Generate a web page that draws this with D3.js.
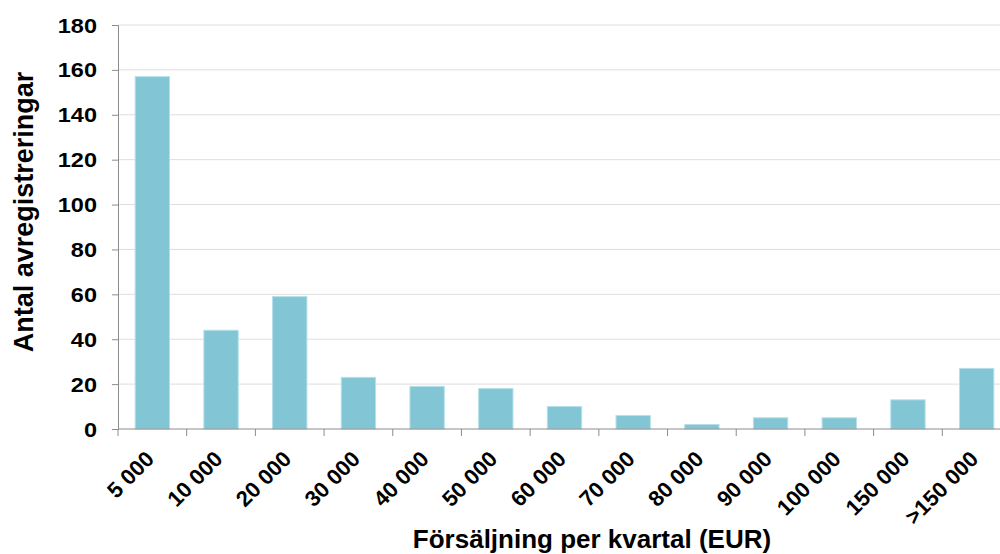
<!DOCTYPE html>
<html>
<head>
<meta charset="utf-8">
<script src="https://cdn.jsdelivr.net/npm/d3@7"></script>
<style>
  html, body { margin: 0; padding: 0; background: #fff; overflow: hidden; }
  svg { display: block; font-family: "Liberation Sans", Arial, sans-serif; }
</style>
</head>
<body>
<svg id="chart" width="1000" height="554"></svg>
<script>
// Deregistrations by quarterly sales bracket
const categories = ["5 000", "10 000", "20 000", "30 000", "40 000", "50 000", "60 000",
                    "70 000", "80 000", "90 000", "100 000", "150 000", ">150 000"];
const counts = [157, 44, 59, 23, 19, 18, 10, 6, 2, 5, 5, 13, 27];
const yTicks = [0, 20, 40, 60, 80, 100, 120, 140, 160, 180];

const svg = d3.select("#chart");
const plotLeft = 118, plotRight = 1011, plotTop = 25, plotBottom = 429;
const axisColor = "#8c8c8c";

const x = d3.scaleBand().domain(categories).range([plotLeft, plotRight]).paddingInner(0.5).paddingOuter(0.25);
const y = d3.scaleLinear().domain([0, 180]).range([plotBottom, plotTop]);

// horizontal gridlines
svg.append("g").selectAll("line").data(yTicks.filter(d => d > 0)).join("line")
  .attr("x1", plotLeft).attr("x2", plotRight)
  .attr("y1", d => y(d)).attr("y2", d => y(d))
  .attr("stroke", "#dedede").attr("stroke-width", 1);

// bars
svg.append("g").selectAll("rect").data(counts).join("rect")
  .attr("x", (d, i) => x(categories[i]))
  .attr("width", x.bandwidth())
  .attr("y", d => y(d))
  .attr("height", d => y(0) - y(d))
  .attr("fill", "#82c6d5")
  .attr("stroke", "#b5e0ea").attr("stroke-width", 1);

// y axis: line and ticks from d3, labels drawn separately (slightly widened)
const yAxis = svg.append("g").attr("transform", `translate(${plotLeft},0)`)
  .call(d3.axisLeft(y).tickValues(yTicks).tickSize(6).tickFormat(""));
yAxis.select(".domain").attr("stroke", axisColor);
yAxis.selectAll(".tick line").attr("stroke", axisColor);

svg.append("g").selectAll("text").data(yTicks).join("text")
  .attr("transform", d => `translate(97,${y(d)}) scale(1.12,1)`)
  .attr("text-anchor", "end")
  .attr("dy", "0.36em")
  .attr("font-size", 21).attr("font-weight", "bold").attr("fill", "#000")
  .text(d => d);

// x axis with tick marks on band boundaries
const xg = svg.append("g").attr("transform", `translate(0,${plotBottom})`);
xg.append("line").attr("x1", plotLeft).attr("x2", plotRight).attr("y1", 0).attr("y2", 0)
  .attr("stroke", axisColor);
const step = x.step();
xg.selectAll("line.tick").data(d3.range(categories.length + 1)).join("line")
  .attr("class", "tick")
  .attr("x1", i => plotLeft + i * step).attr("x2", i => plotLeft + i * step)
  .attr("y1", 0).attr("y2", 7).attr("stroke", axisColor);

svg.append("g").selectAll("text").data(categories).join("text")
  .attr("transform", d => `translate(${x(d) + x.bandwidth() / 2 - 2.5},455) rotate(-45)`)
  .attr("text-anchor", "end")
  .attr("dy", "0.35em")
  .attr("font-size", 22).attr("font-weight", "bold").attr("fill", "#000")
  .text(d => d);

// axis titles
svg.append("text")
  .attr("transform", `translate(33,212) rotate(-90)`)
  .attr("text-anchor", "middle")
  .attr("font-size", 27).attr("font-weight", "bold").attr("fill", "#000")
  .text("Antal avregistreringar");

svg.append("text")
  .attr("x", 592).attr("y", 548)
  .attr("text-anchor", "middle")
  .attr("font-size", 26).attr("font-weight", "bold").attr("fill", "#000")
  .text("Försäljning per kvartal (EUR)");
</script>
</body>
</html>
